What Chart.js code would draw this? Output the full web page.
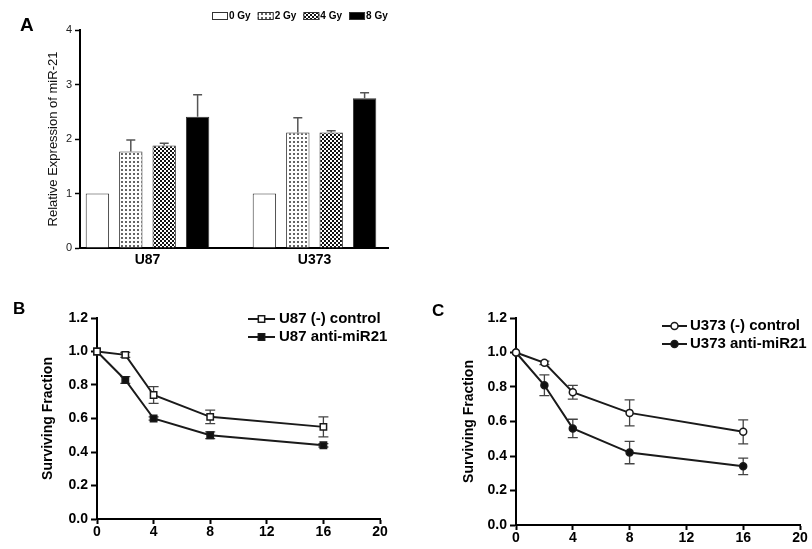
<!DOCTYPE html>
<html>
<head>
<meta charset="utf-8">
<script src="https://cdn.jsdelivr.net/npm/chart.js@4/dist/chart.umd.min.js"></script>
<style>
  body { margin: 0; background: #fff; width: 812px; height: 549px; position: relative; overflow: hidden; font-family: 'Liberation Sans', Arial, sans-serif; }
  canvas { position: absolute; }
  .tag { position: absolute; font-weight: bold; line-height: 1; color: #000; }
</style>
</head>
<body>
<canvas id="chartA" width="400" height="272" style="left:0;top:0"></canvas>
<canvas id="chartB" width="405" height="269" style="left:0;top:280px"></canvas>
<canvas id="chartC" width="402" height="269" style="left:410px;top:280px"></canvas>
<div class="tag" style="left:20px;top:15px;font-size:19px">A</div>
<div class="tag" style="left:13px;top:300px;font-size:17px">B</div>
<div class="tag" style="left:432px;top:302px;font-size:17px">C</div>
<script>
// Panel A: miR-21 expression after irradiation
const cellLines = ['U87', 'U373'];
const doseGroups = ['0 Gy', '2 Gy', '4 Gy', '8 Gy'];
const expr0Gy = [1.0, 1.0];
const expr2Gy = [1.77, 2.12];
const expr4Gy = [1.88, 2.12];
const expr8Gy = [2.41, 2.75];
const err0Gy = [0, 0];
const err2Gy = [0.21, 0.27];
const err4Gy = [0.04, 0.03];
const err8Gy = [0.40, 0.10];
const exprTicks = [0, 1, 2, 3, 4];

// Panels B and C: survival curves
const doses = [0, 2, 4, 8, 16];
const doseTicks = [0, 4, 8, 12, 16, 20];
const fractionTicks = [0, 0.2, 0.4, 0.6, 0.8, 1.0, 1.2];
const u87Control = [1.0, 0.98, 0.74, 0.61, 0.55];
const u87ControlErr = [0, 0.015, 0.05, 0.04, 0.06];
const u87Anti = [1.0, 0.83, 0.60, 0.50, 0.44];
const u87AntiErr = [0, 0.02, 0.01, 0.02, 0.01];
const u373Control = [1.0, 0.94, 0.77, 0.65, 0.54];
const u373ControlErr = [0, 0.01, 0.04, 0.075, 0.07];
const u373Anti = [1.0, 0.81, 0.56, 0.42, 0.34];
const u373AntiErr = [0, 0.06, 0.053, 0.065, 0.048];

const FONT = "'Liberation Sans', Arial, sans-serif";
Chart.defaults.font.family = FONT;
Chart.defaults.color = '#000';

// fill patterns for the bars
function makePattern(size, bg, fg, draw) {
  const c = document.createElement('canvas');
  c.width = size; c.height = size;
  const g = c.getContext('2d');
  g.fillStyle = bg; g.fillRect(0, 0, size, size);
  g.fillStyle = fg; draw(g);
  return g.createPattern(c, 'repeat');
}
const dotFill = makePattern(4, '#fff', '#666', g => g.fillRect(1, 1, 2, 2));
const checkFill = makePattern(4, '#fff', '#111', g => { g.fillRect(0, 0, 2, 2); g.fillRect(2, 2, 2, 2); });

// error bars drawn from the dataset's errors array
function drawErrors(chart, opts) {
  const ctx = chart.ctx;
  const yScale = chart.scales.y;
  chart.data.datasets.forEach((ds, i) => {
    if (!ds.errors) return;
    const meta = chart.getDatasetMeta(i);
    meta.data.forEach((el, j) => {
      const e = ds.errors[j];
      if (!e) return;
      const v = ds.data[j].y;
      const top = yScale.getPixelForValue(v + e);
      const bottom = opts.upOnly ? el.y : yScale.getPixelForValue(v - e);
      const half = opts.cap / 2;
      ctx.save();
      ctx.strokeStyle = opts.color;
      ctx.lineWidth = opts.width;
      ctx.beginPath();
      ctx.moveTo(el.x, bottom); ctx.lineTo(el.x, top);
      ctx.moveTo(el.x - half, top); ctx.lineTo(el.x + half, top);
      if (!opts.upOnly) { ctx.moveTo(el.x - half, bottom); ctx.lineTo(el.x + half, bottom); }
      ctx.stroke();
      ctx.restore();
    });
  });
}
const errorBars = {
  id: 'errorBars',
  beforeDatasetsDraw(chart, args, opts) { if (opts.under) drawErrors(chart, opts); },
  afterDatasetsDraw(chart, args, opts) { if (!opts.under) drawErrors(chart, opts); }
};

// legend with patterned boxes (panel A)
const boxLegend = {
  id: 'boxLegend',
  afterDraw(chart, args, opts) {
    const ctx = chart.ctx;
    let x = opts.x;
    ctx.save();
    ctx.font = opts.font;
    ctx.textBaseline = 'middle';
    chart.data.datasets.forEach(ds => {
      ctx.fillStyle = ds.backgroundColor;
      ctx.fillRect(x, opts.y, opts.boxW, opts.boxH);
      ctx.strokeStyle = '#333'; ctx.lineWidth = 1;
      ctx.strokeRect(x + 0.5, opts.y + 0.5, opts.boxW - 1, opts.boxH - 1);
      ctx.fillStyle = '#000';
      ctx.fillText(ds.label, x + opts.boxW + 1, opts.y + opts.boxH / 2);
      x += opts.boxW + 1 + ctx.measureText(ds.label).width + opts.gap;
    });
    ctx.restore();
  }
};

// legend with line + marker sample (panels B and C)
const lineLegend = {
  id: 'lineLegend',
  afterDraw(chart, args, opts) {
    const ctx = chart.ctx;
    ctx.save();
    ctx.font = opts.font;
    ctx.textBaseline = 'middle';
    chart.data.datasets.forEach((ds, i) => {
      const y = opts.y + i * opts.rowGap;
      const mx = opts.x + opts.lineLen / 2;
      ctx.strokeStyle = ds.borderColor; ctx.lineWidth = ds.borderWidth;
      ctx.beginPath(); ctx.moveTo(opts.x, y); ctx.lineTo(opts.x + opts.lineLen, y); ctx.stroke();
      ctx.fillStyle = ds.pointBackgroundColor;
      ctx.strokeStyle = ds.pointBorderColor;
      ctx.lineWidth = ds.pointBorderWidth;
      ctx.beginPath();
      const r = ds.pointRadius;
      if (ds.pointStyle === 'rect') {
        const s = r / Math.SQRT2;
        ctx.rect(mx - s, y - s, 2 * s, 2 * s);
      } else {
        ctx.arc(mx, y, r, 0, Math.PI * 2);
      }
      ctx.fill(); ctx.stroke();
      ctx.fillStyle = '#000';
      ctx.fillText(ds.label, opts.x + opts.lineLen + opts.gap, y);
    });
    ctx.restore();
  }
};

// ---------- Panel A ----------
const groupPx = 167;          // distance between group centres
const plotWidthA = 308;
const xMinA = 1 - 67.5 / groupPx;
const xMaxA = xMinA + plotWidthA / groupPx;

function barSet(label, values, errors, fill) {
  return {
    label: label,
    data: cellLines.map((c, i) => ({ x: i + 1, y: values[i] })),
    errors: errors,
    backgroundColor: fill,
    borderColor: '#333',
    borderWidth: 1,
    categoryPercentage: 0.8,
    barPercentage: 0.7
  };
}

new Chart(document.getElementById('chartA'), {
  type: 'bar',
  data: {
    datasets: [
      barSet(doseGroups[0], expr0Gy, err0Gy, '#fff'),
      barSet(doseGroups[1], expr2Gy, err2Gy, dotFill),
      barSet(doseGroups[2], expr4Gy, err4Gy, checkFill),
      barSet(doseGroups[3], expr8Gy, err8Gy, '#000')
    ]
  },
  options: {
    responsive: false,
    animation: false,
    layout: { padding: { left: 0, top: 30, right: 12, bottom: 0 } },
    plugins: {
      legend: { display: false },
      tooltip: { enabled: false },
      errorBars: { upOnly: true, cap: 9, color: '#555', width: 1.5 },
      boxLegend: { x: 212, y: 12, boxW: 16, boxH: 8, gap: 7, font: 'bold 10px ' + FONT }
    },
    scales: {
      x: {
        type: 'linear',
        min: xMinA, max: xMaxA,
        offset: false,
        bounds: 'data',
        afterBuildTicks: s => { s.ticks = cellLines.map((c, i) => ({ value: i + 1 })); },
        afterFit: s => { s.height = 24; },
        grid: { display: false, drawTicks: false, offset: false },
        border: { display: true, color: '#000', width: 2 },
        ticks: { callback: v => cellLines[v - 1], font: { size: 14, weight: 'bold' }, padding: 4, maxRotation: 0 }
      },
      y: {
        min: 0, max: 4,
        afterBuildTicks: s => { s.ticks = exprTicks.map(v => ({ value: v })); },
        afterFit: s => { s.width = 80; },
        grid: { drawOnChartArea: false, drawTicks: true, tickLength: 5, color: '#000', tickWidth: 1.5 },
        border: { display: true, color: '#000', width: 2 },
        ticks: { font: { size: 11 }, color: '#222', padding: 3 },
        title: { display: true, text: 'Relative Expression of miR-21', font: { size: 13 }, color: '#111', padding: { top: 46, bottom: 0 } }
      }
    }
  },
  plugins: [errorBars, boxLegend]
});

// ---------- Panels B and C ----------
function curveSet(label, values, errors, style, open) {
  return {
    label: label,
    data: doses.map((d, i) => ({ x: d, y: values[i] })),
    errors: errors,
    borderColor: '#1a1a1a',
    borderWidth: 2,
    pointStyle: style,
    pointRadius: style === 'rect' ? 4.5 : 3.5,
    pointBackgroundColor: open ? '#fff' : '#111',
    pointBorderColor: '#1a1a1a',
    pointBorderWidth: 1.5,
    tension: 0,
    fill: false,
    clip: false
  };
}

function survivalOptions(pad, yWidth, xHeight, titlePad, legend) {
  return {
    responsive: false,
    animation: false,
    layout: { padding: pad },
    plugins: {
      legend: { display: false },
      tooltip: { enabled: false },
      errorBars: { under: true, cap: 10, color: '#444', width: 1.3 },
      lineLegend: legend
    },
    scales: {
      x: {
        type: 'linear',
        min: 0, max: 20,
        afterBuildTicks: s => { s.ticks = doseTicks.map(v => ({ value: v })); },
        afterFit: s => { s.height = xHeight; },
        grid: { drawOnChartArea: false, drawTicks: true, tickLength: 5, color: '#000', tickWidth: 2 },
        border: { display: true, color: '#000', width: 2 },
        ticks: { font: { size: 14, weight: 'bold' }, padding: 0, maxRotation: 0 }
      },
      y: {
        min: 0, max: 1.2,
        afterBuildTicks: s => { s.ticks = fractionTicks.map(v => ({ value: v })); },
        afterFit: s => { s.width = yWidth; },
        grid: { drawOnChartArea: false, drawTicks: true, tickLength: 6, color: '#000', tickWidth: 2 },
        border: { display: true, color: '#000', width: 2 },
        ticks: { font: { size: 14, weight: 'bold' }, padding: 3, callback: v => Number(v).toFixed(1) },
        title: { display: true, text: 'Surviving Fraction', font: { size: 14, weight: 'bold' }, padding: { top: titlePad, bottom: 0 } }
      }
    }
  };
}

new Chart(document.getElementById('chartB'), {
  type: 'line',
  data: {
    datasets: [
      curveSet('U87 (-) control', u87Control, u87ControlErr, 'rect', true),
      curveSet('U87 anti-miR21', u87Anti, u87AntiErr, 'rect', false)
    ]
  },
  options: survivalOptions({ left: 0, top: 38, right: 25, bottom: 0 }, 97, 30, 40,
    { x: 248, y: 39, rowGap: 18, lineLen: 27, gap: 4, font: 'bold 15px ' + FONT }),
  plugins: [errorBars, lineLegend]
});

new Chart(document.getElementById('chartC'), {
  type: 'line',
  data: {
    datasets: [
      curveSet('U373 (-) control', u373Control, u373ControlErr, 'circle', true),
      curveSet('U373 anti-miR21', u373Anti, u373AntiErr, 'circle', false)
    ]
  },
  options: survivalOptions({ left: 0, top: 38, right: 12, bottom: 0 }, 106, 24, 51,
    { x: 252, y: 46, rowGap: 18, lineLen: 25, gap: 3, font: 'bold 15px ' + FONT }),
  plugins: [errorBars, lineLegend]
});
</script>
</body>
</html>
